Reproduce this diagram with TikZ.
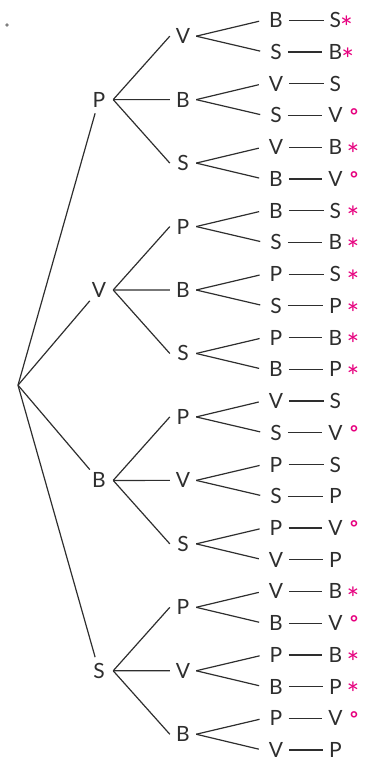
\documentclass[tikz,border=0pt]{standalone}
\usepackage{fontspec}
\setmainfont{Lato}
\definecolor{ink}{HTML}{2E2E2E}
\definecolor{markc}{HTML}{E6007E}
\begin{document}
\begin{tikzpicture}[x=1pt,y=-1pt,
  lab/.style={font=\fontsize{21}{21}\selectfont, text=ink, inner sep=0pt,
    text height=15pt, text depth=0pt},
  lvone/.style={lab, circle, minimum size=28pt},
  lvtwo/.style={lab, circle, minimum size=26pt},
  leaf/.style={lab, inner xsep=6pt},
  edge/.style={draw=ink, line width=1.2pt},
  starmark/.style={font=\fontsize{30}{30}\selectfont, text=markc, inner sep=0pt, anchor=base},
  ringmark/.style={font=\fontsize{19}{19}\selectfont\bfseries, text=markc, inner sep=0pt, anchor=base}
]
\useasboundingbox (0,0) rectangle (366,760);
\fill[gray] (7,25) circle (1.9);
\coordinate (r) at (18,385.2);
\foreach \n/\t/\y in {a/P/99.6, b/V/290.0, c/B/480.4, d/S/670.8} {
  \node[lvone] (\n) at (99,\y) {\t};
  \draw[edge] (r) -- (\n);
}
\foreach \k/\p/\t in {0/a/V,1/a/B,2/a/S,3/b/P,4/b/B,5/b/S,6/c/P,7/c/V,8/c/S,9/d/P,10/d/V,11/d/B} {
  \node[lvtwo] (m\k) at (183,{36.17+63.46*\k}) {\t};
  \draw[edge] (\p.east) -- (m\k.west);
}
\foreach \i/\k/\a/\b in {0/0/B/S,1/0/S/B,2/1/V/S,3/1/S/V,4/2/V/B,5/2/B/V,
  6/3/B/S,7/3/S/B,8/4/P/S,9/4/S/P,10/5/P/B,11/5/B/P,
  12/6/V/S,13/6/S/V,14/7/P/S,15/7/S/P,16/8/P/V,17/8/V/P,
  18/9/V/B,19/9/B/V,20/10/P/B,21/10/B/P,22/11/P/V,23/11/V/P} {
  \node[leaf] (x\i) at (276,{20.3+31.73*\i}) {\a};
  \node[leaf] (z\i) at (335.4,{20.3+31.73*\i}) {\b};
  \draw[edge, shorten >=4pt] (m\k.east) -- (x\i.west);
  \draw[edge] (x\i) -- (z\i);
}
\foreach \i/\x in {0/346.5,1/347.8,4/353,6/353,7/353,8/353,9/353,10/353,11/353,18/353,20/353,21/353} {
  \node[starmark] (s\i) at (\x,{20.3+31.73*\i+18.3}) {*};
}
\foreach \i in {3,5,13,16,19,22} {
  \node[ringmark] (o\i) at (354,{20.3+31.73*\i+6.8}) {°};
}
\end{tikzpicture}
\end{document}
